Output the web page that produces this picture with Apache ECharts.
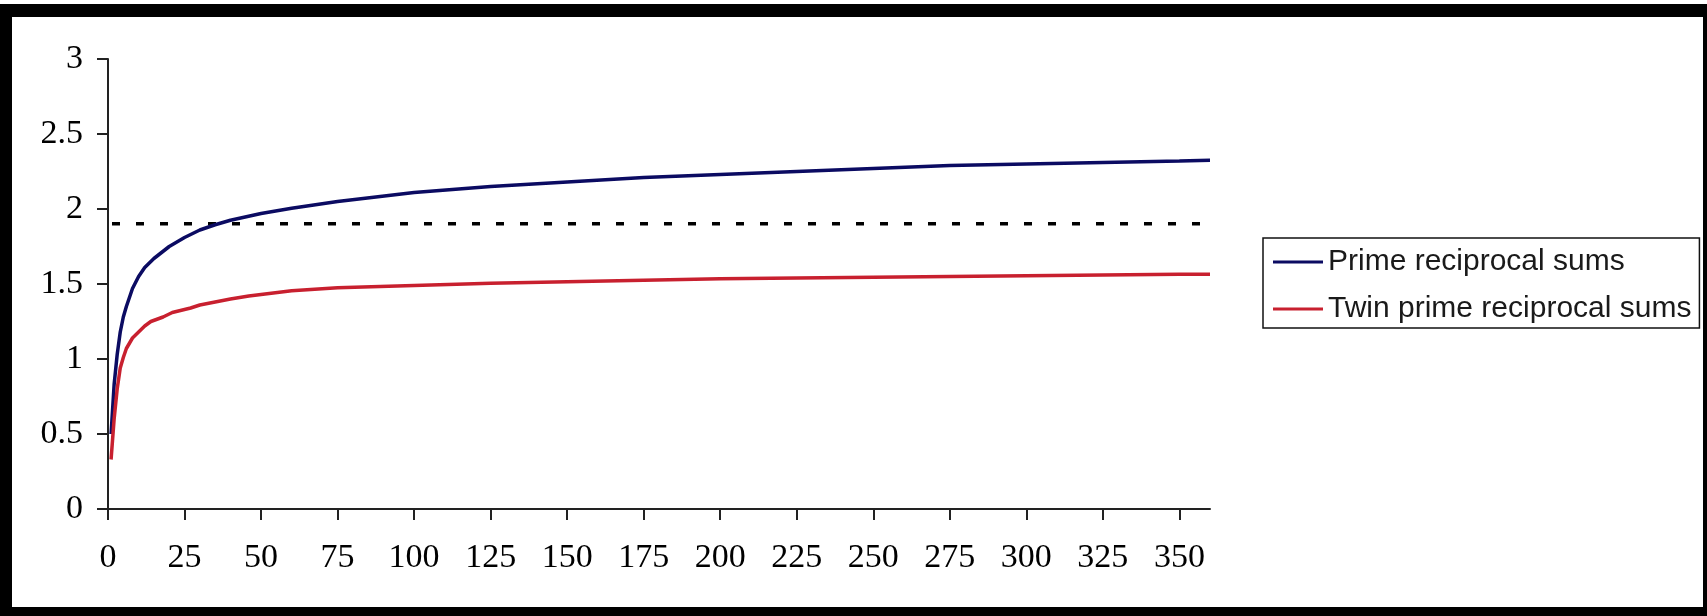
<!DOCTYPE html>
<html>
<head>
<meta charset="utf-8">
<script src="https://cdn.jsdelivr.net/npm/echarts@6/dist/echarts.min.js"></script>
<style>
  html, body { margin: 0; padding: 0; background: #fff; }
  #frame { position: absolute; left: 0; top: 0; width: 1707px; height: 616px; background: #000; }
  #topstrip { position: absolute; left: 0; top: 0; width: 1707px; height: 4px; background: #fff; }
  #inner { position: absolute; left: 12px; top: 17px; width: 1691px; height: 590px; background: #fff; }
  #chart { position: absolute; left: 0; top: 0; width: 1707px; height: 616px; }
</style>
</head>
<body>
<div id="frame"></div>
<div id="topstrip"></div>
<div id="inner"></div>
<div id="chart"></div>
<script>
// ---- data ----
const xTicks = [0, 25, 50, 75, 100, 125, 150, 175, 200, 225, 250, 275, 300, 325, 350];
const yTicks = [0, 0.5, 1, 1.5, 2, 2.5, 3];

const primeX = [1, 2, 3, 4, 5, 6, 7, 8, 9, 10, 12, 15, 20, 25, 30, 35, 40, 50, 60, 75, 100, 125, 150, 175, 200, 225, 250, 275, 300, 325, 350, 360];
const primeY = [0.50, 0.83, 1.03, 1.18, 1.28, 1.35, 1.41, 1.47, 1.51, 1.55, 1.61, 1.67, 1.75, 1.81, 1.86, 1.895, 1.925, 1.97, 2.005, 2.05, 2.11, 2.15, 2.18, 2.21, 2.23, 2.25, 2.27, 2.29, 2.30, 2.31, 2.32, 2.325];

const twinX = [1, 2, 3, 4, 5, 6, 8, 10, 12, 14, 18, 21, 27, 30, 35, 40, 46, 50, 60, 75, 100, 125, 150, 175, 200, 225, 250, 275, 300, 325, 350, 360];
const twinY = [0.33, 0.60, 0.80, 0.94, 1.01, 1.07, 1.14, 1.18, 1.22, 1.25, 1.28, 1.31, 1.34, 1.36, 1.38, 1.40, 1.42, 1.43, 1.455, 1.475, 1.49, 1.505, 1.515, 1.525, 1.535, 1.54, 1.545, 1.55, 1.555, 1.56, 1.565, 1.565];

const brunX = [0, 360];
const brunConstant = 1.902;

const seriesNames = ['Prime reciprocal sums', 'Twin prime reciprocal sums'];

// ---- chart ----
const zip = (xs, ys) => xs.map((x, i) => [x, ys[i]]);
const chart = echarts.init(document.getElementById('chart'), null, { renderer: 'canvas' });

const serifFont = '"Liberation Serif", "Times New Roman", serif';
const sansFont = '"Liberation Sans", Arial, sans-serif';

chart.setOption({
  animation: false,
  backgroundColor: 'transparent',
  grid: { left: 108, right: 497, top: 59, bottom: 107, containLabel: false },
  legend: {
    data: seriesNames,
    orient: 'vertical',
    left: 1263,
    top: 238,
    icon: 'rect',
    itemWidth: 50,
    itemHeight: 3,
    itemGap: 13,
    padding: [7, 8, 2, 10],
    borderColor: '#111',
    borderWidth: 1.5,
    backgroundColor: '#fff',
    textStyle: { fontFamily: sansFont, fontSize: 30, color: '#1a1a1a', lineHeight: 34 }
  },
  xAxis: {
    type: 'value',
    min: 0,
    max: 360,
    interval: 25,
    splitLine: { show: false },
    axisLine: { show: true, onZero: false, lineStyle: { color: '#222', width: 2 } },
    axisTick: { show: true, inside: false, length: 11, lineStyle: { color: '#222', width: 2 }, customValues: xTicks },
    axisLabel: { fontFamily: serifFont, fontSize: 34, color: '#000', margin: 32, lineHeight: 34, customValues: xTicks }
  },
  yAxis: {
    type: 'value',
    min: 0,
    max: 3,
    interval: 0.5,
    splitLine: { show: false },
    axisLine: { show: true, onZero: false, lineStyle: { color: '#222', width: 2 } },
    axisTick: { show: true, inside: false, length: 11, lineStyle: { color: '#222', width: 2 }, customValues: yTicks },
    axisLabel: { fontFamily: serifFont, fontSize: 34, color: '#000', margin: 25, customValues: yTicks }
  },
  series: [
    {
      name: seriesNames[0],
      type: 'line',
      data: zip(primeX, primeY),
      showSymbol: false,
      symbol: 'none',
      color: '#0b0b62',
      lineStyle: { color: '#0b0b62', width: 3.5 },
      z: 3
    },
    {
      name: seriesNames[1],
      type: 'line',
      data: zip(twinX, twinY),
      showSymbol: false,
      symbol: 'none',
      color: '#c8202f',
      lineStyle: { color: '#c8202f', width: 3.5 },
      z: 3
    },
    {
      name: 'Brun',
      type: 'line',
      data: brunX.map(x => [x, brunConstant]),
      showSymbol: false,
      symbol: 'none',
      silent: true,
      color: '#000',
      lineStyle: { color: '#000', width: 3.5, type: [8, 16], dashOffset: -4 },
      z: 2
    }
  ]
});
</script>
</body>
</html>
